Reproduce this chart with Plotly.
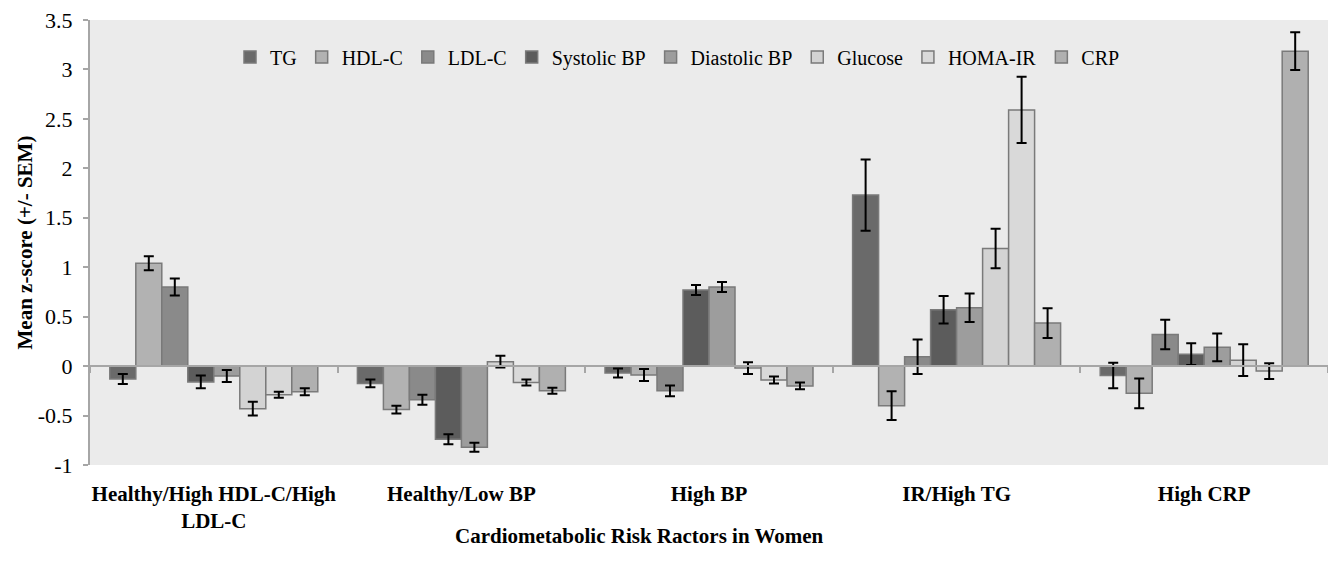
import plotly.graph_objects as go

categories = ["Healthy/High HDL-C/High<br>LDL-C", "Healthy/Low BP", "High BP", "IR/High TG", "High CRP"]

series_names = ["TG", "HDL-C", "LDL-C", "Systolic BP", "Diastolic BP", "Glucose", "HOMA-IR", "CRP"]

tg = [-0.13, -0.175, -0.07, 1.73, -0.095]
tg_err = [0.05, 0.04, 0.045, 0.36, 0.13]
hdl = [1.04, -0.44, -0.09, -0.40, -0.275]
hdl_err = [0.07, 0.04, 0.06, 0.145, 0.15]
ldl = [0.80, -0.34, -0.25, 0.095, 0.32]
ldl_err = [0.085, 0.05, 0.055, 0.175, 0.15]
sbp = [-0.16, -0.74, 0.77, 0.57, 0.12]
sbp_err = [0.065, 0.05, 0.05, 0.14, 0.11]
dbp = [-0.10, -0.82, 0.80, 0.59, 0.19]
dbp_err = [0.06, 0.045, 0.05, 0.145, 0.14]
glucose = [-0.43, 0.045, -0.02, 1.19, 0.06]
glucose_err = [0.07, 0.06, 0.06, 0.20, 0.16]
homa = [-0.29, -0.165, -0.14, 2.59, -0.05]
homa_err = [0.03, 0.03, 0.035, 0.335, 0.08]
crp = [-0.26, -0.25, -0.20, 0.435, 3.185]
crp_err = [0.035, 0.03, 0.035, 0.15, 0.19]

values = [tg, hdl, ldl, sbp, dbp, glucose, homa, crp]
errors = [tg_err, hdl_err, ldl_err, sbp_err, dbp_err, glucose_err, homa_err, crp_err]
colors = ["#6a6a6a", "#b2b2b2", "#8a8a8a", "#5c5c5c", "#9d9d9d", "#d3d3d3", "#d9d9d9", "#b0b0b0"]

y_tickvals = [-1, -0.5, 0, 0.5, 1, 1.5, 2, 2.5, 3, 3.5]
y_ticktext = ["-1", "-0.5", "0", "0.5", "1", "1.5", "2", "2.5", "3", "3.5"]

FONT = "Liberation Serif"

fig = go.Figure()
for name, vals, errs, col in zip(series_names, values, errors, colors):
    fig.add_trace(go.Bar(
        name=name, x=categories, y=vals,
        marker=dict(color=col, line=dict(color="#7a7a7a", width=1.5)),
        error_y=dict(type="data", array=errs, visible=True, color="#000000", thickness=2, width=5),
    ))

# invisible trace to carry the zero-crossing category axis
fig.add_trace(go.Scatter(x=categories, y=[0] * len(categories), xaxis="x2", mode="markers",
                         marker=dict(opacity=0), showlegend=False, hoverinfo="skip"))

fig.update_layout(
    width=1336, height=576,
    margin=dict(l=82, r=16, t=12, b=119, autoexpand=False),
    paper_bgcolor="#ffffff",
    plot_bgcolor="#ebebeb",
    barmode="group",
    bargap=0.16,
    bargroupgap=0,
    font=dict(family=FONT, color="#000000", size=20),
    showlegend=True,
    legend=dict(orientation="h", x=(230 - 90) / 1238, xanchor="left", y=0.917, yanchor="middle",
                bgcolor="rgba(0,0,0,0)", font=dict(family=FONT, size=20, color="#000000"),
                itemwidth=30, traceorder="normal"),
    xaxis=dict(type="category", categoryorder="array", categoryarray=categories,
               showline=False, ticks="", showgrid=False, zeroline=False, automargin=False,
               tickfont=dict(family=FONT, size=21, color="#000000", weight="bold"),
               ticklabelstandoff=14, ticklabeloverflow="allow"),
    xaxis2=dict(type="category", categoryorder="array", categoryarray=categories,
                overlaying="x", matches="x", anchor="free", position=1 / 4.5,
                showline=True, linecolor="#a6a6a6", linewidth=2, automargin=False,
                ticks="outside", tickson="boundaries", ticklen=6, tickcolor="#a6a6a6", tickwidth=2,
                showticklabels=False, showgrid=False, zeroline=False),
    yaxis=dict(range=[-1, 3.5], tickvals=y_tickvals, ticktext=y_ticktext,
               showline=True, linecolor="#a6a6a6", linewidth=2, automargin=False,
               ticks="outside", ticklen=5, tickcolor="#a6a6a6", tickwidth=2,
               showgrid=False, zeroline=False,
               tickfont=dict(family=FONT, size=22, color="#000000"),
               ticklabelstandoff=6, ticklabeloverflow="allow"),
    annotations=[
        dict(text="<b>Mean z-score (+/- SEM)</b>", textangle=-90, xref="paper", yref="paper",
             x=(24 - 90) / 1238, y=0.5, xanchor="center", yanchor="middle", showarrow=False,
             font=dict(family=FONT, size=21, color="#000000")),
        dict(text="<b>Cardiometabolic Risk Ractors in Women</b>", xref="paper", yref="paper",
             x=(639 - 90) / 1238, y=-(536 - 465) / 445, xanchor="center", yanchor="middle",
             showarrow=False, font=dict(family=FONT, size=21, color="#000000")),
    ],
)

fig.write_html("out.html")
